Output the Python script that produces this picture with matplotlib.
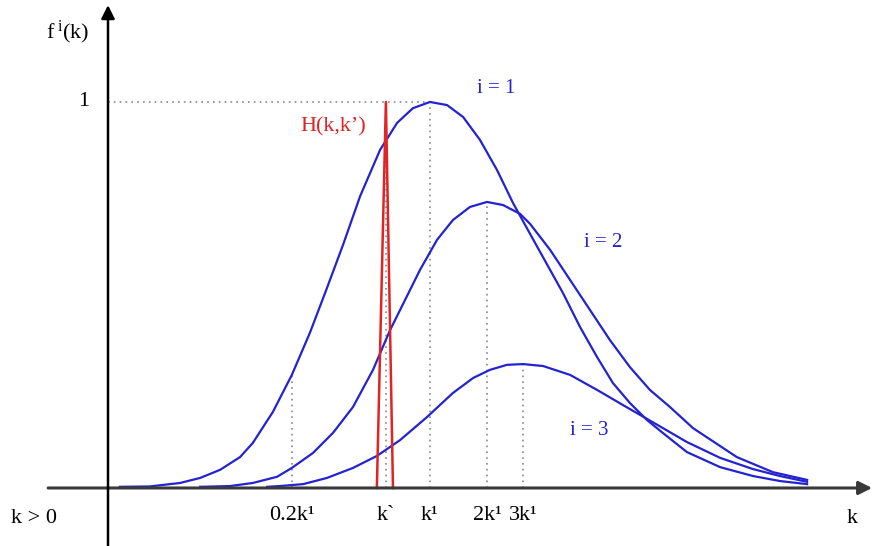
import matplotlib
matplotlib.use("Agg")
import matplotlib.pyplot as plt

plt.rcParams['font.family'] = ['Liberation Serif', 'DejaVu Serif']
plt.rcParams['mathtext.fontset'] = 'custom'
plt.rcParams['mathtext.rm'] = 'Liberation Serif'
plt.rcParams['mathtext.it'] = 'Liberation Serif:italic'

# k in units of the k1 position (k1 -> 1.0), f normalised to the i=1 peak
k1_curve = [0.037, 0.130, 0.224, 0.286, 0.348, 0.410, 0.450, 0.512, 0.571, 0.627,
            0.680, 0.730, 0.783, 0.845, 0.898, 0.947, 1.000, 1.053, 1.103, 1.155,
            1.208, 1.258, 1.311, 1.363, 1.413, 1.466, 1.519, 1.568, 1.621, 1.674,
            1.724, 1.798, 1.901, 2.003, 2.087, 2.171]
f1_curve = [0.003, 0.004, 0.013, 0.026, 0.047, 0.080, 0.117, 0.197, 0.293, 0.402,
            0.518, 0.630, 0.756, 0.876, 0.946, 0.984, 1.000, 0.992, 0.961, 0.902,
            0.824, 0.738, 0.658, 0.580, 0.505, 0.417, 0.339, 0.272, 0.220, 0.176,
            0.142, 0.093, 0.054, 0.031, 0.018, 0.010]

k2_curve = [0.286, 0.379, 0.450, 0.525, 0.571, 0.637, 0.699, 0.761, 0.823, 0.876,
            0.969, 1.022, 1.071, 1.124, 1.177, 1.227, 1.280, 1.311, 1.373, 1.435,
            1.497, 1.559, 1.621, 1.683, 1.745, 1.817, 1.953, 2.065, 2.171]
f2_curve = [0.003, 0.005, 0.013, 0.029, 0.052, 0.091, 0.143, 0.210, 0.306, 0.409,
            0.565, 0.643, 0.694, 0.728, 0.741, 0.733, 0.710, 0.684, 0.617, 0.539,
            0.461, 0.383, 0.313, 0.254, 0.210, 0.155, 0.080, 0.041, 0.021]

k3_curve = [0.494, 0.534, 0.606, 0.680, 0.761, 0.835, 0.907, 0.991, 1.071, 1.134,
            1.186, 1.239, 1.289, 1.351, 1.435, 1.519, 1.599, 1.674, 1.798, 1.901,
            2.003, 2.087, 2.171]
f3_curve = [0.003, 0.005, 0.010, 0.026, 0.052, 0.083, 0.124, 0.184, 0.246, 0.285,
            0.306, 0.319, 0.321, 0.316, 0.293, 0.254, 0.215, 0.179, 0.119, 0.078,
            0.049, 0.031, 0.016]

# reference positions on the k axis and the height of their dotted guides
tick_k = [0.571, 0.863, 1.000, 1.177, 1.289]
tick_h = [0.293, 1.000, 1.000, 0.741, 0.321]
tick_labels = ["0.2k¹", "k`", "k¹", "2k¹", "3k¹"]

# H(k,k') kernel: narrow triangle around k'
h_k = [0.835, 0.863, 0.885]
h_f = [0.0, 1.0, 0.0]

curve_labels = ["i = 1", "i = 2", "i = 3"]
curve_label_pos = [(1.205, 1.036), (1.538, 0.635), (1.494, 0.150)]

blue = '#2323cf'
red = '#e02424'
grey = '#888888'

fig = plt.figure(figsize=(8.75, 5.46), dpi=100)
ax = fig.add_axes([0, 0, 1, 1])
ax.set_xlim(-0.3354, 2.382)
ax.set_ylim(-0.1503, 1.2642)
ax.axis('off')

# dotted guides
ax.plot([0, 1.0], [1.0, 1.0], color=grey, lw=1.2, ls=(0, (1, 2.5)))
for kk, hh in zip(tick_k, tick_h):
    ax.plot([kk, kk], [0, hh], color=grey, lw=1.2, ls=(0, (1, 2.5)))

# curves
for kk, ff in [(k1_curve, f1_curve), (k2_curve, f2_curve), (k3_curve, f3_curve)]:
    ax.plot(kk, ff, color=blue, lw=1.6, solid_joinstyle='round')

ax.plot(h_k, h_f, color=red, lw=1.8)

# axes with arrows
ax.annotate('', xy=(2.373, 0), xytext=(-0.186, 0),
            arrowprops=dict(arrowstyle='-|>', lw=2.2, color='#3a3a3a',
                            mutation_scale=20, shrinkA=0, shrinkB=0))
ax.annotate('', xy=(0, 1.251), xytext=(0, -0.150),
            arrowprops=dict(arrowstyle='-|>', lw=1.8, color='black',
                            mutation_scale=20, shrinkA=0, shrinkB=0))

fs = 16
for kk, lab in zip(tick_k, tick_labels):
    ax.text(kk, -0.070, lab, ha='center', va='center', fontsize=fs)

ax.text(-0.059, 1.000, "1", ha='right', va='center', fontsize=fs)
ax.text(-0.127, 1.181, r"f$^{\,\,\mathrm{i}}$(k)", ha='center', va='center', fontsize=fs)
ax.text(-0.300, -0.078, "k > 0", ha='left', va='center', fontsize=fs)
ax.text(2.311, -0.080, "k", ha='center', va='center', fontsize=fs)
ax.text(0.699, 0.936, "H(k,k’)", ha='center', va='center', fontsize=fs, color=red)

for lab, (x, y) in zip(curve_labels, curve_label_pos):
    ax.text(x, y, lab, ha='center', va='center', fontsize=15, color=blue)

fig.savefig("out.png", dpi=100)
